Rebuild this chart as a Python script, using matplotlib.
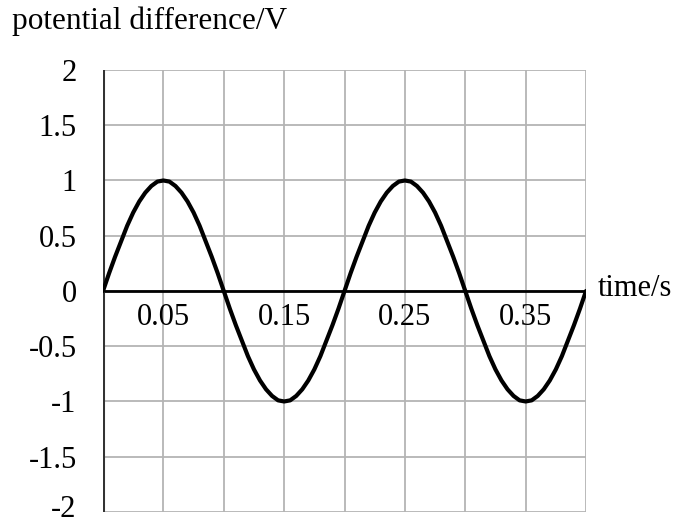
import numpy as np
import matplotlib
matplotlib.use('Agg')
import matplotlib.pyplot as plt
import matplotlib.transforms as mtransforms

plt.rcParams['font.family'] = ['Liberation Serif', 'DejaVu Serif']

# values (every 0.005 s)
time_s = [round(0.005 * i, 3) for i in range(81)]
pd_v = [0, 0.16, 0.31, 0.45, 0.59, 0.71, 0.81, 0.89, 0.95, 0.99,
        1.0, 0.99, 0.95, 0.89, 0.81, 0.71, 0.59, 0.45, 0.31, 0.16,
        0, -0.16, -0.31, -0.45, -0.59, -0.71, -0.81, -0.89, -0.95, -0.99,
        -1.0, -0.99, -0.95, -0.89, -0.81, -0.71, -0.59, -0.45, -0.31, -0.16,
        0, 0.16, 0.31, 0.45, 0.59, 0.71, 0.81, 0.89, 0.95, 0.99,
        1.0, 0.99, 0.95, 0.89, 0.81, 0.71, 0.59, 0.45, 0.31, 0.16,
        0, -0.16, -0.31, -0.45, -0.59, -0.71, -0.81, -0.89, -0.95, -0.99,
        -1.0, -0.99, -0.95, -0.89, -0.81, -0.71, -0.59, -0.45, -0.31, -0.16, 0]
y_ticks = [2, 1.5, 1, 0.5, 0, -0.5, -1, -1.5, -2]
y_labels = ['2', '1.5', '1', '0.5', '0', '-0.5', '-1', '-1.5', '-2']
x_labels = ['0.05', '0.15', '0.25', '0.35']

fig = plt.figure(figsize=(6.85, 5.24), dpi=100)
ax = fig.add_axes([0.1504, 0.023, 0.7051, 0.8434])
ax.set_xlim(0, 0.4)
ax.set_ylim(-2, 2)

# grid
for gx in np.arange(0.05, 0.401, 0.05):
    ax.axvline(gx, color='#b4b4b4', lw=1.3, zorder=1)
for gy in y_ticks:
    ax.axhline(gy, color='#b4b4b4', lw=1.3, zorder=1)
ax.axhline(0, color='black', lw=2.0, zorder=2)
ax.axvline(0, color='#333333', lw=2.2, zorder=2)

ax.plot(time_s, pd_v, color='black', lw=3.0, zorder=3,
        solid_capstyle='round', solid_joinstyle='round')

for s in ax.spines.values():
    s.set_visible(False)
ax.set_xticks([])
ax.set_yticks(y_ticks)
ax.set_yticklabels(y_labels, fontsize=22)
ax.tick_params(axis='y', length=0, pad=19)

# nudge the bottom label up so it stays inside the image
bottom_lab = ax.get_yticklabels()[-1]
bottom_lab.set_transform(bottom_lab.get_transform() +
                         mtransforms.ScaledTranslation(0, 4 / 72, fig.dpi_scale_trans))

for lab in x_labels:
    ax.text(float(lab), -0.24, lab, ha='center', va='center', fontsize=22)

fig.text(12 / 685, 1 - 21 / 524, 'potential difference/V', ha='left',
         va='center', fontsize=22.5)
fig.text(598 / 685, 1 - 288 / 524, 'time/s', ha='left', va='center',
         fontsize=22)

fig.savefig('out.png', dpi=100)
